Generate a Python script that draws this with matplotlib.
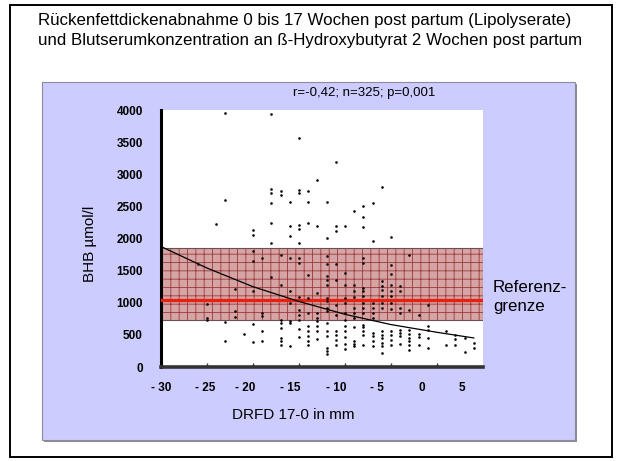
import matplotlib
matplotlib.use('Agg')
import matplotlib.pyplot as plt
from matplotlib.patches import Rectangle

plt.rcParams['font.family'] = ['Liberation Sans', 'DejaVu Sans']
plt.rcParams['hatch.linewidth'] = 0.6

# figure size in pixels (dpi 100)
W, H = 620, 461


def fx(px):
    return px / W


def fy(py):
    return 1 - py / H


# Data: DRFD 17-0 (mm) columns and BHB values (umol/l)
drfd_cols = [-26, -25, -24, -23, -22, -21, -20, -19, -18, -17, -16, -15, -14,
             -13, -12, -11, -10, -9, -8, -7, -6, -5, -4, -3, -2, -1, 1, 2, 3, 4]
bhb_by_col = [
    [1608],
    [981, 758, 731],
    [2230],
    [3949, 2594, 700, 409],
    [1209, 872, 783],
    [506],
    [2132, 2062, 1805, 1654, 1183, 665, 394],
    [1701, 836, 794, 565, 405],
    [3933, 2770, 2713, 2552, 2237, 1925, 1400],
    [2735, 2677, 1748, 1281, 736, 685, 607, 451, 400, 338],
    [2573, 2199, 2034, 1696, 1178, 996, 711, 685, 322],
    [3564, 2750, 2704, 2215, 2153, 1925, 1696, 1619, 1094, 892, 805, 736, 596, 462],
    [2744, 2563, 2237, 1437, 1074, 840, 633, 556, 478, 400, 338],
    [2910, 2199, 1152, 840, 763, 711, 633, 556, 440],
    [2563, 2008, 1721, 1603, 1412, 1359, 1281, 1074, 1023, 918, 867, 685, 556, 478, 296, 244, 202],
    [3191, 2195, 2112, 1603, 1359, 970, 814, 556, 493, 425, 338],
    [2195, 1463, 1281, 1074, 996, 840, 736, 633, 556, 462, 358, 285],
    [2433, 1281, 1178, 1084, 918, 840, 763, 618, 400, 358, 322],
    [2511, 2335, 2174, 1696, 1619, 1230, 1178, 1100, 996, 918, 840, 658, 618, 565, 503, 347],
    [2548, 1966, 996, 918, 840, 763, 529, 478, 400, 322],
    [2802, 1334, 1256, 1203, 1100, 996, 918, 556, 503, 451, 374, 322, 218],
    [2028, 1592, 1447, 1281, 1178, 1100, 996, 907, 556, 493, 425, 347],
    [1256, 1178, 918, 840, 581, 529, 478, 358],
    [1748, 892, 581, 514, 451, 400, 338, 269],
    [805, 514, 462, 338],
    [970, 633, 581, 451, 296],
    [565, 338],
    [503, 440, 347],
    [451, 233],
    [374, 296],
]

# trend curve
trend_x = [-30, -25, -20, -15, -10, -5, 0, 4]
trend_y = [1875, 1540, 1250, 1020, 820, 660, 540, 452]

# reference range band and reference limit
ref_low, ref_high = 736, 1852
ref_limit = 1038

xtick_pos = [-30, -25.2, -20.9, -15.9, -11.0, -6.5, -1.6, 2.7]
xtick_labels = ['- 30', '- 25', '- 20', '- 15', '- 10', '- 5', '0', '5']
xminor_pos = [-25, -20, -15, -10, -5, 0]
ytick_vals = [0, 500, 1000, 1500, 2000, 2500, 3000, 3500, 4000]

xs, ys = [], []
for c, vals in zip(drfd_cols, bhb_by_col):
    for v in vals:
        xs.append(c)
        ys.append(v)

fig = plt.figure(figsize=(6.2, 4.61), dpi=100)
fig.patch.set_facecolor('white')

# outer frame
fig.patches.append(Rectangle((fx(10), fy(457)), fx(602), 452 / H,
                             transform=fig.transFigure, fill=False,
                             edgecolor='black', lw=1.4, zorder=-2))
# panel shadow + panel
fig.patches.append(Rectangle((fx(44), fy(442)), fx(533), 358 / H,
                             transform=fig.transFigure, facecolor='#8a8a9a',
                             edgecolor='none', zorder=-2))
fig.patches.append(Rectangle((fx(42), fy(440)), fx(533), 358 / H,
                             transform=fig.transFigure, facecolor='#ccccff',
                             edgecolor='#8a8a9a', lw=0.8, zorder=-1))

fig.text(fx(38), fy(21), 'Rückenfettdickenabnahme 0 bis 17 Wochen post partum (Lipolyserate)',
         fontsize=12.2, va='center', ha='left')
fig.text(fx(38), fy(40), 'und Blutserumkonzentration an ß-Hydroxybutyrat 2 Wochen post partum',
         fontsize=12.2, va='center', ha='left')
fig.text(fx(364), fy(93), 'r=-0,42; n=325; p=0,001', fontsize=9.5,
         va='center', ha='center')
fig.text(fx(493), fy(297), 'Referenz-\ngrenze', fontsize=12.2,
         va='center', ha='left', linespacing=1.3)

ax = fig.add_axes([fx(161), fy(367), fx(322), 257 / H])
ax.set_zorder(1)
ax.set_facecolor('white')
ax.set_xlim(-30, 5)
ax.set_ylim(0, 4000)

band = Rectangle((-30, ref_low), 35, ref_high - ref_low, facecolor='#d6a4a4',
                 edgecolor='#9a3a3a', hatch='++', lw=0, zorder=1)
ax.add_patch(band)
ax.add_patch(Rectangle((-30, ref_low), 35, ref_high - ref_low, fill=False,
                       edgecolor='#6a5050', lw=0.8, zorder=2))
ax.axhline(ref_limit, color='#e8200c', lw=2.4, zorder=3)

ax.scatter(xs, ys, s=3.5, color='black', marker='o', linewidths=0, zorder=4)
ax.plot(trend_x, trend_y, color='black', lw=0.9, zorder=5)

for s in ['top', 'right']:
    ax.spines[s].set_visible(False)
ax.spines['left'].set_linewidth(2.2)
ax.spines['bottom'].set_linewidth(2.6)
ax.spines['bottom'].set_color('#333333')

ax.set_xticks(xtick_pos)
ax.set_xticklabels(xtick_labels, fontsize=8.5, fontweight='bold')
ax.set_xticks(xminor_pos, minor=True)
ax.set_yticks(ytick_vals)
ax.set_yticklabels([str(v) for v in ytick_vals], fontsize=8.5, fontweight='bold')
ax.tick_params(axis='x', which='major', length=0, pad=11)
ax.tick_params(axis='x', which='minor', length=3, width=1, direction='in',
               color='#333333')
ax.tick_params(axis='y', length=0, pad=13)

ax.set_xlabel('DRFD 17-0 in mm', fontsize=11)
ax.xaxis.set_label_coords(0.41, -0.16)
ax.set_ylabel('BHB µmol/l', fontsize=11)
ax.yaxis.set_label_coords(-0.2, 0.48)

fig.savefig('out.png', dpi=100, facecolor='white')
